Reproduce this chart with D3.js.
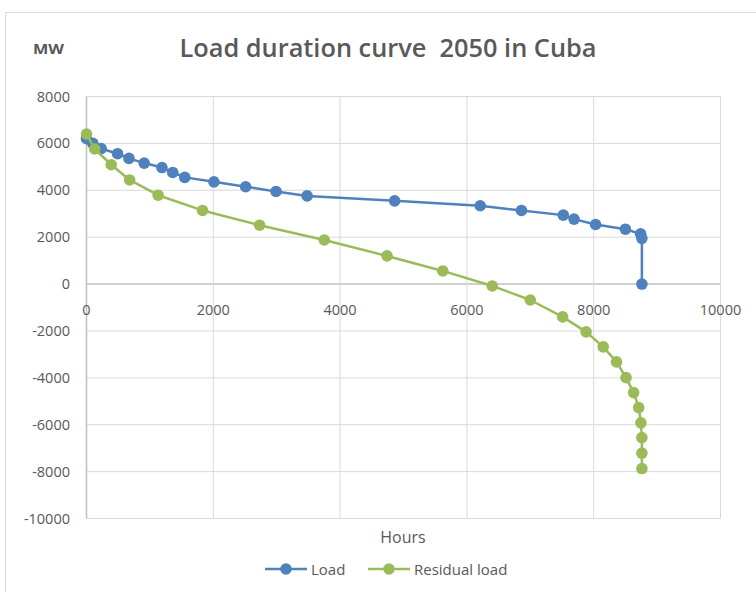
<!DOCTYPE html>
<html>
<head>
<meta charset="utf-8">
<script src="https://cdn.jsdelivr.net/npm/d3@7"></script>
<style>
  body { margin: 0; background: #fff; }
  text { font-family: "Open Sans", "Liberation Sans", sans-serif; fill: #595959; white-space: pre; }
</style>
</head>
<body>
<div id="main"></div>
<script>
// hours and MW
var loadHours = [0, 100, 230, 490, 670, 910, 1190, 1360, 1550, 2010, 2510, 2990, 3480, 4860, 6210, 6860, 7520, 7690, 8030, 8500, 8740, 8760, 8760];
var loadMW    = [6200, 6000, 5780, 5560, 5360, 5160, 4970, 4760, 4550, 4360, 4150, 3950, 3760, 3550, 3340, 3140, 2940, 2770, 2540, 2340, 2140, 1950, 0];

var resHours = [0, 130, 390, 680, 1130, 1830, 2730, 3750, 4740, 5620, 6400, 7000, 7510, 7880, 8150, 8360, 8510, 8630, 8710, 8745, 8760, 8760, 8760];
var resMW    = [6400, 5760, 5090, 4440, 3790, 3140, 2510, 1880, 1200, 560, -80, -680, -1400, -2040, -2680, -3320, -3990, -4630, -5270, -5920, -6550, -7210, -7870];

var xTicks = [0, 2000, 4000, 6000, 8000, 10000];
var yTicks = [8000, 6000, 4000, 2000, 0, -2000, -4000, -6000, -8000, -10000];

var series = [
  { name: "Load", color: "#4F81BD", x: loadHours, y: loadMW },
  { name: "Residual load", color: "#9BBB59", x: resHours, y: resMW }
];

var W = 756, H = 592;
var svg = d3.select("#main").append("svg")
    .attr("width", W)
    .attr("height", H);

// chart frame
svg.append("path")
    .attr("d", "M5.5," + H + "V12.5H" + W)
    .attr("fill", "none")
    .attr("stroke", "#d9d9d9");

var x = d3.scaleLinear().domain([0, 10000]).range([86.5, 720.5]);
var y = d3.scaleLinear().domain([-10000, 8000]).range([518.5, 96.5]);

// gridlines
svg.append("g").selectAll("line").data(yTicks).join("line")
    .attr("x1", x(0)).attr("x2", x(10000))
    .attr("y1", d => y(d)).attr("y2", d => y(d))
    .attr("stroke", d => d === 0 ? "#bfbfbf" : "#d9d9d9")
    .attr("stroke-width", d => d === 0 ? 1.5 : 1);
svg.append("g").selectAll("line").data(xTicks).join("line")
    .attr("x1", d => x(d)).attr("x2", d => x(d))
    .attr("y1", y(8000)).attr("y2", y(-10000))
    .attr("stroke", d => d === 0 ? "#bfbfbf" : "#d9d9d9")
    .attr("stroke-width", d => d === 0 ? 1.5 : 1);

// tick labels
svg.append("g").selectAll("text").data(yTicks).join("text")
    .attr("x", 70).attr("y", d => y(d) + 5)
    .attr("text-anchor", "end")
    .attr("font-size", 14.5)
    .text(d => d);
svg.append("g").selectAll("text").data(xTicks).join("text")
    .attr("x", d => x(d)).attr("y", y(0) + 31)
    .attr("text-anchor", "middle")
    .attr("font-size", 14.5)
    .text(d => d);

// lines + markers
var line = d3.line().x(d => x(d[0])).y(d => y(d[1]));
series.forEach(function(s) {
  var pts = d3.zip(s.x, s.y);
  svg.append("path")
      .attr("d", line(pts))
      .attr("fill", "none")
      .attr("stroke", s.color)
      .attr("stroke-width", 2.5)
      .attr("stroke-linejoin", "round");
  svg.append("g").selectAll("circle").data(pts).join("circle")
      .attr("cx", d => x(d[0])).attr("cy", d => y(d[1]))
      .attr("r", 5.8)
      .attr("fill", s.color);
});

// titles
svg.append("text")
    .attr("x", 388).attr("y", 57)
    .attr("text-anchor", "middle")
    .attr("font-size", 25).attr("font-weight", 600)
    .attr("textLength", 417).attr("lengthAdjust", "spacingAndGlyphs")
    .text("Load duration curve  2050 in Cuba");
svg.append("text")
    .attr("x", 33).attr("y", 54)
    .attr("font-size", 14).attr("font-weight", "bold")
    .attr("textLength", 31).attr("lengthAdjust", "spacingAndGlyphs")
    .text("MW");
svg.append("text")
    .attr("x", 403).attr("y", 543)
    .attr("text-anchor", "middle")
    .attr("font-size", 16)
    .text("Hours");

// legend
var legX = [265, 368];
series.forEach(function(s, i) {
  var g = svg.append("g").attr("transform", "translate(" + legX[i] + ",569)");
  g.append("line").attr("x1", 0).attr("x2", 42)
      .attr("stroke", s.color).attr("stroke-width", 2.5);
  g.append("circle").attr("cx", 21).attr("r", 5.8).attr("fill", s.color);
  g.append("text").attr("x", 46).attr("y", 6)
      .attr("font-size", 15)
      .text(s.name);
});
</script>
</body>
</html>
